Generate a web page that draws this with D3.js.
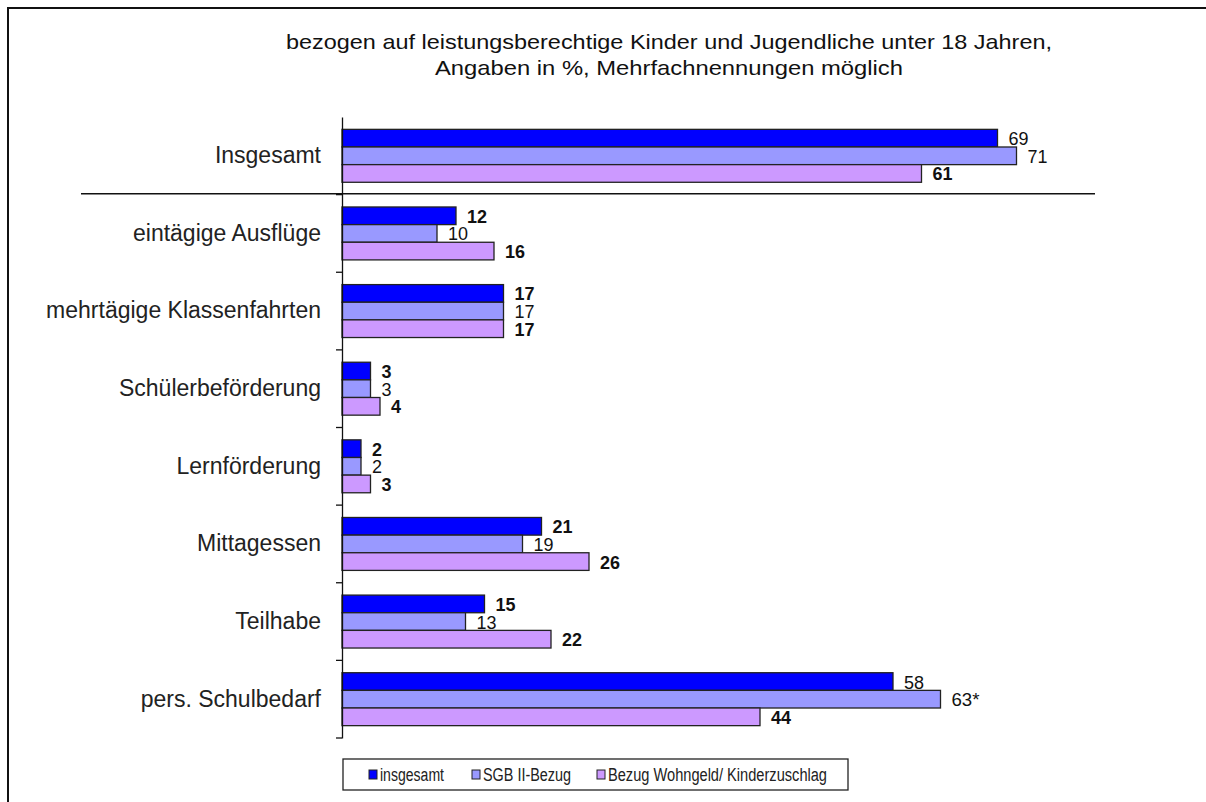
<!DOCTYPE html>
<html>
<head>
<meta charset="utf-8">
<script src="https://cdn.jsdelivr.net/npm/d3@7"></script>
<style>
  body { margin: 0; background: #fff; }
  svg { display: block; font-family: "Liberation Sans", Arial, sans-serif; }
</style>
</head>
<body>
<svg width="1206" height="802"></svg>
<script>
const categories = ['Insgesamt', 'eintägige Ausflüge', 'mehrtägige Klassenfahrten', 'Schülerbeförderung',
  'Lernförderung', 'Mittagessen', 'Teilhabe', 'pers. Schulbedarf'];
const seriesNames = ['insgesamt', 'SGB II-Bezug', 'Bezug Wohngeld/ Kinderzuschlag'];
const insgesamt = [69, 12, 17, 3, 2, 21, 15, 58];
const sgb = [71, 10, 17, 3, 2, 19, 13, 63];
const wohngeld = [61, 16, 17, 4, 3, 26, 22, 44];
const labelSuffix = [['', '', '', '', '', '', '', ''], ['', '', '', '', '', '', '', '*'], ['', '', '', '', '', '', '', '']];
const colors = ['#0000ff', '#9999ff', '#cc99ff'];

const svg = d3.select('svg');

// outer frame (runs off the right and bottom edge like the screenshot)
svg.append('rect')
  .attr('x', 8).attr('y', 8)
  .attr('width', 1220).attr('height', 820)
  .attr('fill', 'none').attr('stroke', '#111').attr('stroke-width', 2);

// title
svg.append('text')
  .attr('x', 669).attr('y', 49)
  .attr('text-anchor', 'middle')
  .attr('font-size', 21)
  .attr('textLength', 766).attr('lengthAdjust', 'spacingAndGlyphs')
  .attr('fill', '#111')
  .text('bezogen auf leistungsberechtige Kinder und Jugendliche unter 18 Jahren,');
svg.append('text')
  .attr('x', 669).attr('y', 75)
  .attr('text-anchor', 'middle')
  .attr('font-size', 21)
  .attr('textLength', 468).attr('lengthAdjust', 'spacingAndGlyphs')
  .attr('fill', '#111')
  .text('Angaben in %, Mehrfachnennungen möglich');

const x = d3.scaleLinear().domain([0, 80]).range([342, 342 + 80 * 9.5]);
const y = d3.scaleBand().domain(categories).range([117, 738]);
const inner = d3.scaleBand().domain([0, 1, 2]).range([0, y.bandwidth()]).paddingOuter(0.7).paddingInner(0);

const data = categories.map((c, i) => ({
  cat: c,
  values: [insgesamt[i], sgb[i], wohngeld[i]]
}));

const groups = svg.selectAll('g.grp').data(data).enter().append('g')
  .attr('class', 'grp')
  .attr('transform', (d) => `translate(0,${y(d.cat)})`);

groups.selectAll('rect').data((d) => d.values.map((v, s) => ({ v, s }))).enter().append('rect')
  .attr('x', x(0))
  .attr('y', (d) => inner(d.s))
  .attr('width', (d) => x(d.v) - x(0))
  .attr('height', inner.bandwidth())
  .attr('fill', (d) => colors[d.s])
  .attr('stroke', '#222')
  .attr('stroke-width', 1.3);

groups.selectAll('text.val').data((d, i) => d.values.map((v, s) => ({ v, s, i }))).enter().append('text')
  .attr('class', 'val')
  .attr('x', (d) => x(d.v) + 11)
  .attr('y', (d) => inner(d.s) + inner.bandwidth() / 2 + 7)
  .attr('font-size', 18)
  .attr('font-weight', (d) => (d.s === 1 || (d.i === 0 && d.s === 0) || (d.i === 7 && d.s === 0)) ? 'normal' : 'bold')
  .attr('fill', '#111')
  .attr('textLength', (d) => (String(d.v).length === 1 ? 10 : 20) + (labelSuffix[d.s][d.i] ? 8 : 0))
  .attr('lengthAdjust', 'spacingAndGlyphs')
  .text((d) => d.v + labelSuffix[d.s][d.i]);

// category axis
const yAxis = d3.axisLeft(y).tickSize(0).tickPadding(21);
const ax = svg.append('g').attr('transform', `translate(${x(0)},0)`).call(yAxis);
ax.select('.domain').attr('stroke', '#111').attr('stroke-width', 1.3);
ax.selectAll('.tick text')
  .attr('font-size', 23)
  .attr('fill', '#222')
  .attr('font-family', '"Liberation Sans", Arial, sans-serif');

// ticks between groups
const bounds = categories.slice(1).map((c) => y(c)).concat([y.range()[1]]);
svg.selectAll('line.tk').data(bounds).enter().append('line')
  .attr('x1', x(0) - 6).attr('x2', x(0))
  .attr('y1', (d) => d).attr('y2', (d) => d)
  .attr('stroke', '#111').attr('stroke-width', 1.3);

// separator below "Insgesamt"
svg.append('line')
  .attr('x1', 81).attr('x2', 1095)
  .attr('y1', y(categories[1]) - 1).attr('y2', y(categories[1]) - 1)
  .attr('stroke', '#111').attr('stroke-width', 1.5);

// legend
const legend = svg.append('g').attr('transform', 'translate(343,759)');
legend.append('rect').attr('width', 505).attr('height', 31)
  .attr('fill', '#fff').attr('stroke', '#222').attr('stroke-width', 1.3);
const legX = [26, 129, 254];
const legW = [64, 88, 219];
seriesNames.forEach((name, s) => {
  legend.append('rect')
    .attr('x', legX[s]).attr('y', 11)
    .attr('width', 8).attr('height', 9)
    .attr('fill', colors[s]).attr('stroke', '#222').attr('stroke-width', 1);
  legend.append('text')
    .attr('x', legX[s] + 11).attr('y', 22)
    .attr('font-size', 18)
    .attr('fill', '#222')
    .attr('textLength', legW[s]).attr('lengthAdjust', 'spacingAndGlyphs')
    .text(name);
});
</script>
</body>
</html>
